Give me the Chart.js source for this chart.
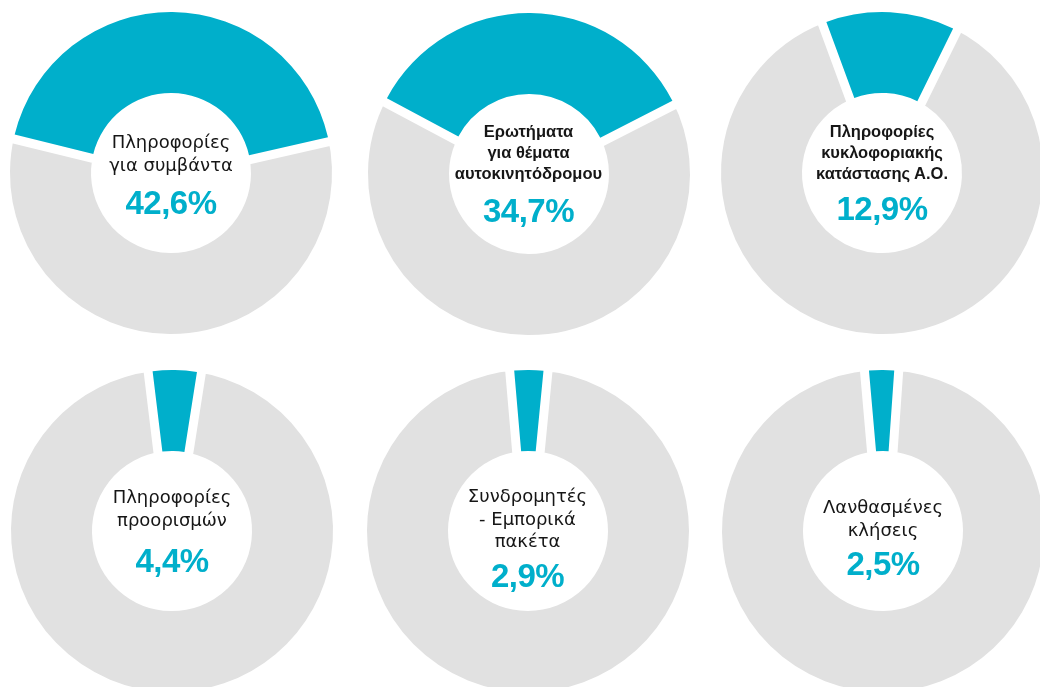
<!DOCTYPE html>
<html>
<head>
<meta charset="utf-8">
<script src="https://cdn.jsdelivr.net/npm/chart.js@4.4.1/dist/chart.umd.min.js"></script>
<style>
  html, body { margin: 0; padding: 0; background: #ffffff; }
  body { width: 1040px; height: 687px; overflow: hidden; position: relative; font-family: "Liberation Sans", Arial, sans-serif; }
  canvas { position: absolute; }
  .lbl { position: absolute; width: 220px; text-align: center; color: #161616; font-family: "DejaVu Sans", sans-serif; font-size: 18px; line-height: 22.5px; }
  .lbl.bold { font-family: "Liberation Sans", Arial, sans-serif; font-weight: bold; font-size: 16.5px; line-height: 21px; }
  .pct { position: absolute; width: 220px; text-align: center; color: #00AFCB; font-weight: bold; font-size: 33px; line-height: 33px; letter-spacing: -0.5px; }
</style>
</head>
<body>
<script>
// ---- data ----
const categories = [
  "Πληροφορίες για συμβάντα",
  "Ερωτήματα για θέματα αυτοκινητόδρομου",
  "Πληροφορίες κυκλοφοριακής κατάστασης Α.Ο.",
  "Πληροφορίες προορισμών",
  "Συνδρομητές - Εμπορικά πακέτα",
  "Λανθασμένες κλήσεις"
];
const labelLines = [
  ["Πληροφορίες", "για συμβάντα"],
  ["Ερωτήματα", "για θέματα", "αυτοκινητόδρομου"],
  ["Πληροφορίες", "κυκλοφοριακής", "κατάστασης Α.Ο."],
  ["Πληροφορίες", "προορισμών"],
  ["Συνδρομητές", "- Εμπορικά", "πακέτα"],
  ["Λανθασμένες", "κλήσεις"]
];
const shares = [42.6, 34.7, 12.9, 4.4, 2.9, 2.5];
const percentLabels = ["42,6%", "34,7%", "12,9%", "4,4%", "2,9%", "2,5%"];

// ---- layout / style ----
const TEAL = "#00AFCB";
const GREY = "#E1E1E1";
const CLEAR = "rgba(0,0,0,0)";
const centers = [[171, 172.5], [528.5, 174], [882, 173], [172, 531], [527.5, 531], [883, 531]];
const rotationOffsets = [0.5, 0.5, 3, 1, 0.3, -0.5];
const boldLabels = [false, true, true, false, false, false];
const labelTops = [131, 121, 121, 486, 485, 496];
const pctTops = [186, 194, 192, 544, 559, 547];
const GAP = 9, R_OUT = 161, R_IN = 80, HALF = 185;

function makeLayer(cx, cy, i, colors, borderWidths, rOuter, rInner) {
  const cv = document.createElement('canvas');
  cv.width = HALF * 2; cv.height = HALF * 2;
  cv.style.left = (cx - HALF) + 'px';
  cv.style.top = (cy - HALF) + 'px';
  document.body.appendChild(cv);
  new Chart(cv, {
    type: 'doughnut',
    data: {
      labels: [categories[i], "Υπόλοιπα"],
      datasets: [{
        data: [shares[i], 100 - shares[i]],
        backgroundColor: colors,
        borderColor: "#ffffff",
        borderWidth: borderWidths,
        borderJoinStyle: 'miter',
        hoverOffset: 0
      }]
    },
    options: {
      responsive: false,
      animation: false,
      events: [],
      radius: rOuter,
      cutout: (rInner / rOuter * 100) + '%',
      rotation: -shares[i] * 3.6 / 2 + rotationOffsets[i],
      layout: { padding: 0 },
      plugins: { legend: { display: false }, tooltip: { enabled: false } }
    }
  });
}

categories.forEach((cat, i) => {
  const [cx, cy] = centers[i];
  // grey layer: white border cut out of the grey part only
  makeLayer(cx, cy, i, [CLEAR, GREY], [0, GAP * 2], R_OUT + GAP, R_IN - GAP);
  // teal layer on top, full angle
  makeLayer(cx, cy, i, [TEAL, CLEAR], [0, 0], R_OUT, R_IN);

  const lbl = document.createElement('div');
  lbl.className = 'lbl' + (boldLabels[i] ? ' bold' : '');
  lbl.style.left = (cx - 110) + 'px';
  lbl.style.top = labelTops[i] + 'px';
  lbl.innerHTML = labelLines[i].join('<br>');
  document.body.appendChild(lbl);

  const pct = document.createElement('div');
  pct.className = 'pct';
  pct.style.left = (cx - 110) + 'px';
  pct.style.top = pctTops[i] + 'px';
  pct.textContent = percentLabels[i];
  document.body.appendChild(pct);
});
</script>
</body>
</html>
